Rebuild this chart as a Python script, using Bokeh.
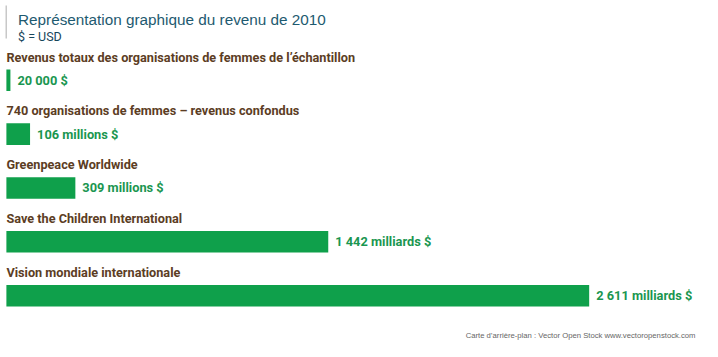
from bokeh.plotting import figure
from bokeh.models import Range1d, Label, BoxAnnotation, ColumnDataSource
from bokeh.core.properties import value
from bokeh.embed import file_html
from bokeh.resources import INLINE
import numpy as np

categories = [
    "Revenus totaux des organisations de femmes de l\u2019\u00e9chantillon",
    "740 organisations de femmes \u2013 revenus confondus",
    "Greenpeace Worldwide",
    "Save the Children International",
    "Vision mondiale internationale",
]
revenus_millions = [0.02, 106, 309, 1442, 2611]
value_labels = ["20 000 $", "106 millions $", "309 millions $", "1 442 milliards $", "2 611 milliards $"]

title_text = "Repr\u00e9sentation graphique du revenu de 2010"
subtitle_text = "$ = USD"
footer_text = "Carte d\u2019arri\u00e8re-plan : Vector Open Stock www.vectoropenstock.com"

W, H = 702, 341
min_visible = 18  # smallest bar drawn, so the tiny value stays visible

idx = np.arange(len(categories))
bar_right = np.maximum(np.array(revenus_millions), min_visible)

src = ColumnDataSource(dict(
    y=idx,
    right=bar_right,
    cat=categories,
    lab=value_labels,
    cat_y=idx - 0.43,
))

p = figure(width=W, height=H, output_backend="svg", toolbar_location=None,
           x_range=Range1d(-26.4, 3118.7), y_range=Range1d(4.851, -1.482),
           min_border=0, outline_line_color=None)
p.axis.visible = False
p.grid.visible = False
p.background_fill_color = "white"
p.border_fill_color = "white"

p.hbar(y="y", left=0, right="right", height=0.40, source=src,
       fill_color="#0fa04b", line_color=None)

p.text(x=0, y="cat_y", text="cat", source=src,
       text_font=value("Roboto"), text_font_size="12.7px", text_font_style="bold",
       text_color="#5c3d24", text_baseline="middle", text_align="left")

p.text(x="right", y="y", text="lab", source=src, x_offset=7,
       text_font=value("Roboto"), text_font_size="12.8px", text_font_style="bold",
       text_color="#1a9650", text_baseline="middle", text_align="left")

p.add_layout(BoxAnnotation(left=5, right=6.5, bottom=303, top=336,
                           left_units="screen", right_units="screen",
                           bottom_units="screen", top_units="screen",
                           fill_color="#c8c8c8", fill_alpha=1, line_color=None))

p.add_layout(Label(x=17.5, y=322, x_units="screen", y_units="screen", text=title_text,
                   text_font="Liberation Sans", text_font_size="15.3px",
                   text_color="#1e5a70", text_baseline="alphabetic"))
p.add_layout(Label(x=17.5, y=305.5, x_units="screen", y_units="screen", text=subtitle_text,
                   text_font="Roboto", text_font_size="12.5px",
                   text_color="#17465c", text_baseline="alphabetic"))
p.add_layout(Label(x=695, y=6, x_units="screen", y_units="screen", text=footer_text,
                   text_font="Liberation Sans", text_font_size="7.7px",
                   text_color="#666666", text_baseline="alphabetic", text_align="right"))

open("out.html", "w").write(file_html(p, INLINE))
